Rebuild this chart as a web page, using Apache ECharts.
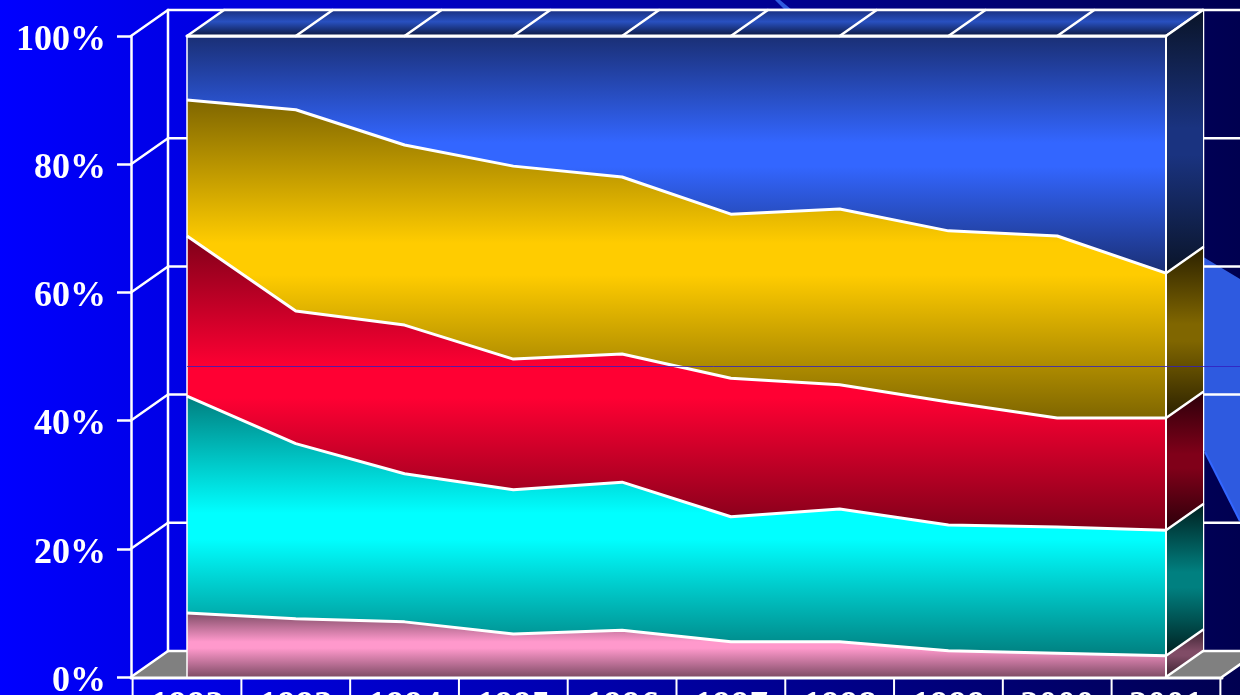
<!DOCTYPE html>
<html>
<head>
<meta charset="utf-8">
<title>Market share 1992-2001</title>
<style>
  html, body { margin: 0; padding: 0; background: #000050; overflow: hidden; }
  #chart { width: 1240px; height: 695px; }
</style>
<script src="https://cdn.jsdelivr.net/npm/echarts@6/dist/echarts.min.js"></script>
</head>
<body>
<div id="chart"></div>
<script>
// Years along the horizontal axis
var years = ['1992', '1993', '1994', '1995', '1996', '1997', '1998', '1999', '2000', '2001'];

// Share of each group per year, in percent, bottom band first
var pinkShare = [10.0, 9.1, 8.6, 6.7, 7.3, 5.5, 5.5, 4.1, 3.7, 3.3];
var cyanShare = [33.8, 27.3, 23.1, 22.5, 23.1, 19.5, 20.7, 19.6, 19.7, 19.6];
var redShare = [25.0, 20.7, 23.2, 20.4, 20.0, 21.6, 19.4, 19.2, 17.0, 17.5];
var goldShare = [21.2, 31.4, 28.1, 30.1, 27.6, 25.6, 27.4, 26.7, 28.4, 22.6];
var blueShare = [10.0, 11.5, 17.0, 20.3, 22.0, 27.8, 27.0, 30.4, 31.2, 37.0];

// Value axis ticks
var percentTicks = [0, 20, 40, 60, 80, 100];

// Faint horizontal seam across the plot, in axis units
var seamValue = 48.44;

var bands = [
  { name: 'Group A', values: pinkShare, front: ['#7f4c66', '#ff99cc'], side: ['#3a2230', '#804c66'] },
  { name: 'Group B', values: cyanShare, front: ['#007f7f', '#00ffff'], side: ['#001f1f', '#008080'] },
  { name: 'Group C', values: redShare, front: ['#7f0019', '#ff0033'], side: ['#2a000a', '#800019'] },
  { name: 'Group D', values: goldShare, front: ['#7f6600', '#ffcc00'], side: ['#2a2000', '#806600'] },
  { name: 'Group E', values: blueShare, front: ['#1a2f75', '#3366ff'], side: ['#0a1428', '#1a3380'] }
];

// Projection of the 3D box: how far the rear plane sits from the front one
var depthX = 37;
var depthY = -26;
var white = '#ffffff';

function vGradient(stops) {
  return {
    type: 'linear', x: 0, y: 0, x2: 0, y2: 1,
    colorStops: stops.map(function (s) { return { offset: s[0], color: s[1] }; })
  };
}

// Dark at both edges with a short bright plateau through the middle of the band
function bandGradient(pair) {
  return vGradient([[0, pair[0]], [0.45, pair[1]], [0.55, pair[1]], [1, pair[0]]]);
}

function stroke(x1, y1, x2, y2, width, color) {
  return {
    type: 'line',
    shape: { x1: x1, y1: y1, x2: x2, y2: y2 },
    style: { stroke: color || white, lineWidth: width, lineCap: 'round' }
  };
}

function poly(points, fill) {
  return { type: 'polygon', shape: { points: points }, style: { fill: fill } };
}

// Walls, floor, gridlines and the category cells underneath the plot
function renderBackWalls(params, api) {
  var origin = api.coord([0, 0]);
  var step = api.coord([1, 0])[0] - origin[0];
  var floorY = origin[1];
  var topY = api.coord([0, 100])[1];
  var axisX = origin[0] - 56;
  var lastX = api.coord([years.length - 1, 0])[0];
  var endX = lastX + 56;
  var backLeft = axisX + depthX;
  var backRight = lastX + depthX;
  var kids = [];

  // Floor, only visible either side of the plot
  kids.push(poly([[axisX, floorY], [backLeft, floorY + depthY], [endX + depthX, floorY + depthY], [endX, floorY]], '#808080'));

  percentTicks.forEach(function (t) {
    var y = api.coord([0, t])[1];
    kids.push(stroke(axisX, y, backLeft, y + depthY, 2.5));
    kids.push(stroke(backLeft, y + depthY, endX + depthX, y + depthY, 2.5));
  });
  kids.push(stroke(backLeft, topY + depthY, backLeft, floorY + depthY, 2.5));
  kids.push(stroke(backRight, topY + depthY, backRight, floorY + depthY, 2.5));

  // Category cells
  for (var i = 0; i <= years.length; i++) {
    var cx = origin[0] - step / 2 + i * step;
    kids.push(stroke(cx, floorY + 1, cx, floorY + 30, 2));
  }
  kids.push(stroke(endX, floorY, endX + depthX, floorY + depthY, 2.5));
  return { type: 'group', children: kids };
}

// Top lid and right-hand end faces of the stacked solid, plus the plot outline
function renderSolidFaces(params, api) {
  var n = years.length;
  var last = n - 1;
  var origin = api.coord([0, 0]);
  var lastX = api.coord([last, 0])[0];
  var floorY = origin[1];
  var topY = api.coord([0, 100])[1];
  var kids = [];

  // Lid
  kids.push(poly(
    [[origin[0], topY], [origin[0] + depthX, topY + depthY], [lastX + depthX, topY + depthY], [lastX, topY]],
    vGradient([[0, '#1a3080'], [0.45, '#2850c0'], [1, '#0c1840']])
  ));
  for (var i = 0; i < n; i++) {
    var x = api.coord([i, 0])[0];
    kids.push(stroke(x, topY, x + depthX, topY + depthY, 2.5));
  }
  kids.push(stroke(origin[0] + depthX, topY + depthY, lastX + depthX, topY + depthY, 2.5));

  // End faces
  var running = 0;
  var levels = [floorY];
  bands.forEach(function (band) {
    var lowY = levels[levels.length - 1];
    running += band.values[last];
    var highY = api.coord([last, running])[1];
    levels.push(highY);
    kids.push(poly(
      [[lastX, lowY], [lastX + depthX, lowY + depthY], [lastX + depthX, highY + depthY], [lastX, highY]],
      bandGradient(band.side)
    ));
  });
  levels.forEach(function (y) {
    kids.push(stroke(lastX, y, lastX + depthX, y + depthY, 2.5));
  });

  // Plot outline
  kids.push(stroke(origin[0], topY, origin[0], floorY, 1.5));
  kids.push(stroke(lastX, topY, lastX, floorY, 2));
  kids.push(stroke(origin[0], topY, lastX, topY, 3));
  kids.push(stroke(origin[0] - 56, floorY + 1, lastX + 56, floorY + 1, 3));

  // Seam
  var seamY = Math.floor(api.coord([0, seamValue])[1]) + 0.5;
  kids.push({
    type: 'line',
    shape: { x1: origin[0], y1: seamY, x2: 1240, y2: seamY },
    style: { stroke: 'rgba(50,30,190,0.8)', lineWidth: 1 }
  });
  return { type: 'group', children: kids };
}

var areaSeries = bands.map(function (band) {
  return {
    name: band.name,
    type: 'line',
    stack: 'share',
    data: band.values,
    symbol: 'none',
    clip: false,
    z: 3,
    lineStyle: { color: white, width: 3 },
    areaStyle: { color: bandGradient(band.front), opacity: 1 }
  };
});

var option = {
  animation: false,
  backgroundColor: {
    type: 'linear', x: 0, y: 0, x2: 1, y2: 0,
    colorStops: [{ offset: 0, color: '#0000ff' }, { offset: 1, color: '#000050' }]
  },
  grid: { left: 187, right: 74, top: 36, bottom: 18, containLabel: false, outerBoundsMode: 'none' },
  // Swoosh on the slide background, passing behind the chart
  graphic: [{
    type: 'polygon',
    z: -10,
    silent: true,
    shape: { points: [[775, 0], [780, 0], [792, 10], [1205, 258], [1240, 279], [1240, 521], [1205, 452], [785, 10]] },
    style: { fill: '#2e5ae0' }
  }, {
    type: 'polyline',
    z: -9,
    silent: true,
    shape: { points: [[1205, 452], [1240, 521]] },
    style: { stroke: '#3366ff', lineWidth: 2, fill: null }
  }],
  xAxis: {
    type: 'category',
    data: years,
    boundaryGap: false,
    axisLine: { show: false },
    axisTick: { show: false },
    axisLabel: {
      color: white, fontFamily: 'Liberation Serif', fontWeight: 'bold', fontSize: 37,
      margin: 12, interval: 0, hideOverlap: false
    }
  },
  yAxis: {
    type: 'value',
    min: 0,
    max: 100,
    interval: 20,
    offset: 56,
    splitLine: { show: false },
    axisLine: { show: true, lineStyle: { color: white, width: 2.5 } },
    axisTick: { show: true, length: 14, lineStyle: { color: white, width: 2.5 } },
    axisLabel: {
      color: white, fontFamily: 'Liberation Serif', fontWeight: 'bold', fontSize: 36, margin: 25,
      verticalAlign: 'top', lineHeight: 9,
      formatter: function (v) { return v + '%'; }
    }
  },
  series: [
    { type: 'custom', name: 'walls', data: [[0, 0]], z: 1, silent: true, renderItem: renderBackWalls }
  ].concat(areaSeries).concat([
    { type: 'custom', name: 'faces', data: [[0, 0]], z: 5, silent: true, renderItem: renderSolidFaces }
  ])
};

var chart = echarts.init(document.getElementById('chart'), null, { renderer: 'canvas' });
chart.setOption(option);
</script>
</body>
</html>
